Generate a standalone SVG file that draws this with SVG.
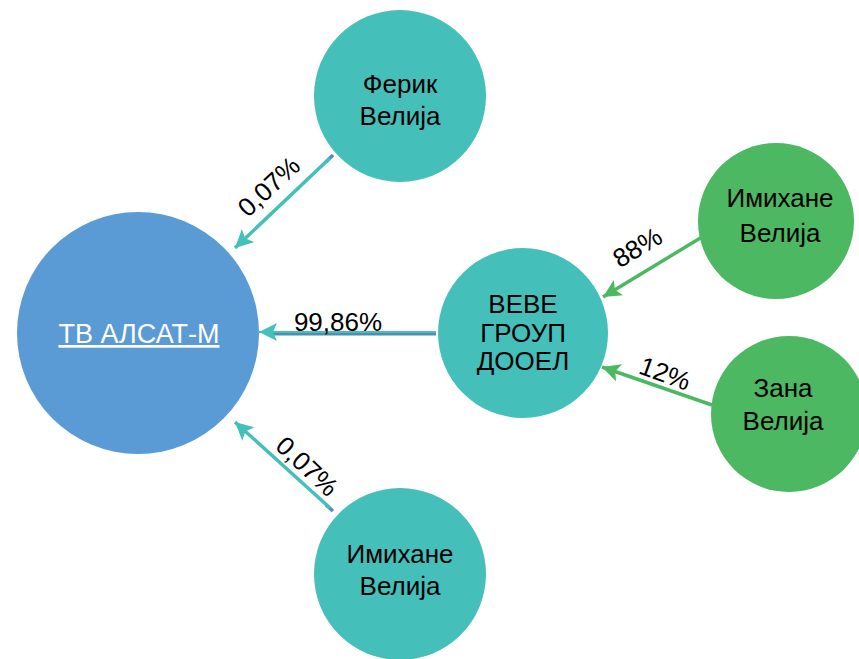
<svg xmlns="http://www.w3.org/2000/svg" width="859" height="659" viewBox="0 0 859 659">
<style>
.t{font-family:"Liberation Sans",Arial,sans-serif;font-size:26px;fill:#000;text-anchor:middle}
.lbl{font-family:"Liberation Sans",Arial,sans-serif;font-size:26px;fill:#000;text-anchor:middle}
.teal{fill:#45BFBA}
.green{fill:#4CB862}
.lt{stroke:#45BFBA;stroke-width:3.5;fill:none}
.lg{stroke:#4CB862;stroke-width:3.5;fill:none}
</style>
<defs>
<marker id="at" markerWidth="20" markerHeight="18" refX="18" refY="9" orient="auto" markerUnits="userSpaceOnUse"><path d="M0,0 L18,9 L0,18 L4,9 Z" fill="#45BFBA"/></marker>
<marker id="ag" markerWidth="20" markerHeight="18" refX="18" refY="9" orient="auto" markerUnits="userSpaceOnUse"><path d="M0,0 L18,9 L0,18 L4,9 Z" fill="#4CB862"/></marker>
</defs>
<rect width="859" height="659" fill="#fff"/>
<g id="connectors">
<line x1="333" y1="155" x2="326" y2="162" stroke="#4F8DB6" stroke-width="3.5"/>
<line class="lt" x1="330" y1="158" x2="235" y2="248" marker-end="url(#at)"/>
<line x1="436" y1="334" x2="272" y2="334" stroke="#4F8DB6" stroke-width="3"/>
<line x1="436" y1="332" x2="259" y2="332" stroke="#45BFBA" stroke-width="2" marker-end="url(#at)"/>
<line x1="333" y1="511" x2="326" y2="505" stroke="#4F8DB6" stroke-width="3.5"/>
<line class="lt" x1="330" y1="508" x2="235" y2="422" marker-end="url(#at)"/>
<line class="lg" x1="702" y1="237" x2="603" y2="297" marker-end="url(#ag)"/>
<line class="lg" x1="712" y1="405" x2="602" y2="367" marker-end="url(#ag)"/>
<text class="lbl" transform="translate(275,193) rotate(-43)">0,07%</text>
<text class="lbl" x="338" y="331">99,86%</text>
<text class="lbl" transform="translate(642,255) rotate(-31)">88%</text>
<text class="lbl" transform="translate(662,382) rotate(20)">12%</text>
<text class="lbl" transform="translate(301,473) rotate(43)">0,07%</text>
</g>
<g id="alsat">
<circle cx="138" cy="333" r="121" fill="#5B9BD5"/>
<text x="139" y="343" style="font-family:'Liberation Sans',Arial,sans-serif;font-size:27px;fill:#fff;text-anchor:middle;text-decoration:underline">ТВ АЛСАТ-М</text>
</g>
<g id="ferik">
<circle class="teal" cx="400" cy="96" r="86"/>
<text class="t" x="400" y="93">Ферик</text>
<text class="t" x="400" y="125">Велија</text>
</g>
<g id="beve">
<circle class="teal" cx="523" cy="333" r="85"/>
<text class="t" x="523" y="313">ВЕВЕ</text>
<text class="t" x="523" y="342">ГРОУП</text>
<text class="t" x="523" y="370">ДООЕЛ</text>
</g>
<g id="imihane1">
<circle class="green" cx="776" cy="221" r="78"/>
<text class="t" x="780" y="207">Имихане</text>
<text class="t" x="780" y="242">Велија</text>
</g>
<g id="zana">
<circle class="green" cx="789" cy="414" r="78"/>
<text class="t" x="783" y="397">Зана</text>
<text class="t" x="783" y="430">Велија</text>
</g>
<g id="imihane2">
<circle class="teal" cx="400" cy="574" r="86"/>
<text class="t" x="400" y="563">Имихане</text>
<text class="t" x="400" y="595">Велија</text>
</g>
</svg>
